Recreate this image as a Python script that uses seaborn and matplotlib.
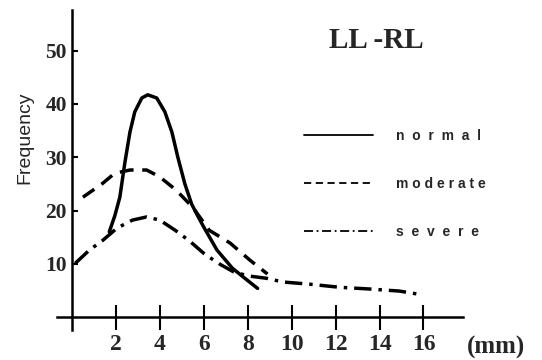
import matplotlib
matplotlib.use("Agg")
import matplotlib.pyplot as plt
import seaborn as sns
import pandas as pd

# Data (x in mm, y = frequency)
normal_x = [1.7, 1.95, 2.18, 2.41, 2.64, 2.86, 3.18, 3.45, 3.86, 4.23, 4.55, 4.82, 5.14, 5.45, 5.75, 6.0, 6.6, 7.3, 7.9, 8.45]
normal_y = [16.0, 19.0, 22.5, 29.0, 34.7, 38.5, 41.1, 41.7, 41.1, 38.5, 34.7, 30.0, 25.0, 21.2, 18.8, 16.9, 12.6, 9.2, 7.2, 5.4]

moderate_x = [0.5, 1.4, 1.95, 2.65, 3.4, 4.0, 4.75, 5.5, 6.25, 7.2, 8.1, 8.9]
moderate_y = [22.5, 25.1, 27.0, 27.6, 27.6, 26.3, 23.8, 20.6, 16.3, 13.9, 10.7, 8.1]

severe_x = [0.15, 0.8, 1.4, 2.05, 2.75, 3.4, 4.0, 4.7, 5.35, 6.05, 6.75, 7.4, 8.1, 8.85, 9.6, 10.8, 12.2, 13.5, 14.9, 15.8]
severe_y = [10.1, 12.6, 14.4, 16.7, 18.2, 18.8, 18.2, 16.3, 14.3, 11.8, 9.9, 8.4, 7.7, 7.3, 6.6, 6.2, 5.6, 5.3, 4.9, 4.3]

labels = ["normal", "moderate", "severe"]
legend_text = ["n  o  r  m  a  l", "m o d e r a t e", "s  e  v  e  r  e"]
x_ticks = [2, 4, 6, 8, 10, 12, 14, 16]
y_ticks = [10, 20, 30, 40, 50]
title = "LL -RL"
y_label = "Frequency"
x_unit = "(mm)"

df = pd.concat([
    pd.DataFrame({"x": normal_x, "y": normal_y, "group": labels[0]}),
    pd.DataFrame({"x": moderate_x, "y": moderate_y, "group": labels[1]}),
    pd.DataFrame({"x": severe_x, "y": severe_y, "group": labels[2]}),
], ignore_index=True)

sns.set_style("white")
plt.rcParams['font.family'] = ['Liberation Sans', 'DejaVu Sans']

fig = plt.figure(figsize=(5.42, 3.6), dpi=100)
ax = fig.add_axes([57/542, 30/360, 406/542, 320/360])

sns.lineplot(data=df, x="x", y="y", style="group", style_order=labels,
             dashes={"normal": "", "moderate": (4, 2.5), "severe": (5, 2, 1, 2)},
             color="black", linewidth=2.5, sort=False, estimator=None, ax=ax)

ax.set_xlim(-0.68, 17.8)
ax.set_ylim(-2.4, 57.6)
for s in ["top", "right"]:
    ax.spines[s].set_visible(False)
ax.spines["left"].set_position(("data", 0))
ax.spines["bottom"].set_position(("data", 0))
for s in ["left", "bottom"]:
    ax.spines[s].set_color("black")
    ax.spines[s].set_linewidth(1.8)

ax.set_xticks(x_ticks)
ax.set_yticks(y_ticks)
ax.set_xticklabels([str(t) for t in x_ticks])
ax.set_yticklabels([str(t) for t in y_ticks])
ax.tick_params(axis="x", bottom=True, direction="inout", length=18, width=1.5, color="black", pad=3)
ax.tick_params(axis="y", left=True, direction="in", length=4, width=1.5, color="black", pad=3.5)
for tl in ax.get_xticklabels():
    tl.set_fontfamily("Liberation Serif")
    tl.set_fontweight("bold")
    tl.set_fontsize(17)
for tl in ax.get_yticklabels():
    tl.set_fontfamily("Liberation Serif")
    tl.set_fontweight("bold")
    tl.set_fontsize(15.5)

ax.set_xlabel("")
ax.set_ylabel(y_label, fontsize=14, family="Liberation Sans")
ax.yaxis.set_label_coords(-0.057, 0.6)

fig.text(467/542, 1 - 347/360, x_unit, ha="left", va="center",
         family="Liberation Serif", fontweight="bold", fontsize=18)
fig.text(376/542, 1 - 40/360, title, ha="center", va="center",
         family="Liberation Serif", fontweight="bold", fontsize=21)

handles, labs = ax.get_legend_handles_labels()
for h in handles:
    h.set_linewidth(1.3)
ax.legend(handles, legend_text, loc="upper left",
          bbox_to_anchor=(304/542, 1 - 129/360), bbox_transform=fig.transFigure,
          frameon=False, fontsize=10, handlelength=5.0, handletextpad=1.6,
          labelspacing=2.45, borderpad=0, borderaxespad=0,
          prop={"family": "Liberation Sans", "weight": "bold", "size": 10})

fig.savefig("out.png", dpi=100)
